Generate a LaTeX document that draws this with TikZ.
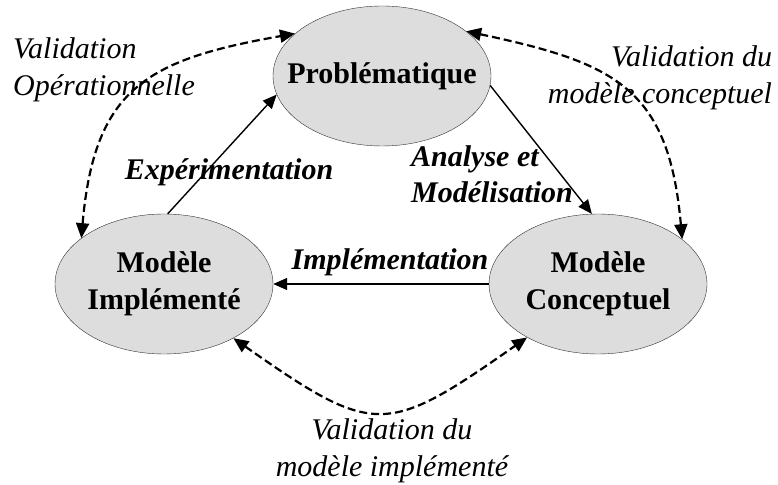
\documentclass[tikz,border=0pt]{standalone}
\usepackage{fontspec}
\setmainfont{Liberation Serif}
\usetikzlibrary{arrows.meta,shapes.geometric}
\definecolor{bulle}{HTML}{DDDDDD}
\tikzset{
  etape/.style={ellipse, draw=black!80, fill=bulle, thin, minimum width=218pt, minimum height=140pt,
                inner sep=-20pt, align=center, font=\fontsize{30}{37}\selectfont\bfseries},
  fleche/.style={-{Triangle[length=14pt,width=12pt]}, line width=1.4pt},
  valid/.style={{Triangle[length=15pt,width=13pt]}-{Triangle[length=15pt,width=13pt]},
                line width=2.2pt, dash pattern=on 8pt off 4pt},
  etiq/.style={align=left, font=\fontsize{30}{36}\selectfont\bfseries\itshape},
  remarque/.style={font=\fontsize{30}{37}\selectfont\itshape},
}

\begin{document}
\begin{tikzpicture}[x=1pt,y=1pt]
  \useasboundingbox (0,0) rectangle (778,484);

  % les trois etapes
  \node[etape] (prob) at (382,408) {Problématique};
  \node[etape] (impl) at (164,200) {Modèle\\Implémenté};
  \node[etape] (conc) at (598,200) {Modèle\\Conceptuel};

  % cycle principal
  \draw[fleche] (impl.87) -- (prob.190) ;
  \draw[fleche] (prob.-5) -- (conc.95);
  \draw[fleche] (conc.west) -- (impl.east);
  \node[etiq] (lexp) at (229,312) {Expérimentation};
  \node[etiq] (lana) at (492,310) {Analyse et\\Modélisation};
  \node[etiq] (limp) at (390,222) {Implémentation};

  % validations
  \draw[valid] (impl.151) to[out=85, in=190, looseness=1.3] (prob.154);
  \draw[valid] (prob.28) to[out=-12, in=95, looseness=1.3] (conc.28);
  \draw[valid] (impl.-38) to[out=-35, in=215, looseness=1.5] (conc.217);
  \node[remarque, align=left] (vop) at (104,414) {Validation\\Opérationnelle};
  \node[remarque, align=right] (vcon) at (660,406) {Validation du\\modèle conceptuel};
  \node[remarque, align=center] (vimp) at (392,33) {Validation du\\modèle implémenté};
\end{tikzpicture}
\end{document}
